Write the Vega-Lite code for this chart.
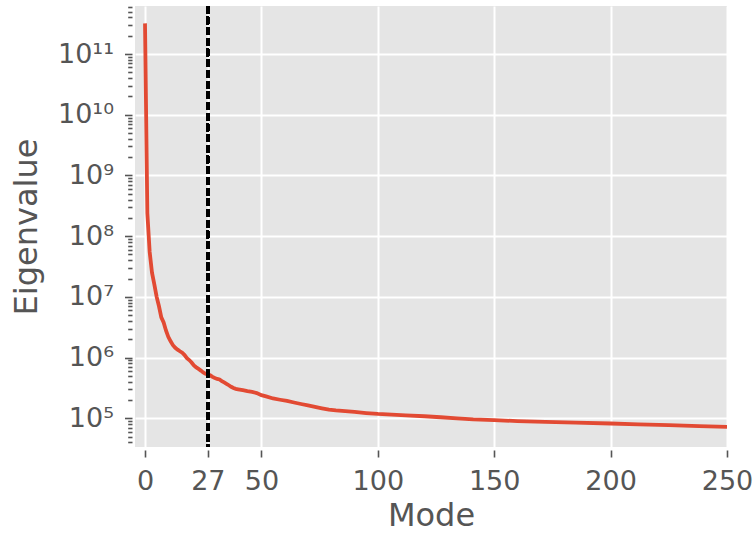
{
  "$schema": "https://vega.github.io/schema/vega-lite/v6.json",
  "width": 592,
  "height": 441,
  "autosize": "none",
  "padding": {"left": 135, "top": 6, "right": 26, "bottom": 86},
  "background": "white",
  "config": {
    "font": "DejaVu Sans",
    "view": {"fill": "#E5E5E5", "stroke": null},
    "axis": {
      "domain": false,
      "gridColor": "white",
      "gridWidth": 2,
      "tickColor": "#555555",
      "tickWidth": 1.6,
      "labelColor": "#555555",
      "labelFont": "DejaVu Sans",
      "labelFontSize": 27,
      "titleColor": "#555555",
      "titleFont": "DejaVu Sans",
      "titleFontSize": 32,
      "titleFontWeight": "normal"
    }
  },
  "data": {
    "values": [
      {"mode": 0, "eig": 3.2e11},
      {"mode": 1, "eig": 2.4e8},
      {"mode": 2, "eig": 5.5e7},
      {"mode": 3, "eig": 2.5e7},
      {"mode": 4, "eig": 1.6e7},
      {"mode": 5, "eig": 1.0e7},
      {"mode": 6, "eig": 7.0e6},
      {"mode": 7, "eig": 4.6e6},
      {"mode": 8, "eig": 3.8e6},
      {"mode": 9, "eig": 2.8e6},
      {"mode": 10, "eig": 2.2e6},
      {"mode": 11, "eig": 1.85e6},
      {"mode": 12, "eig": 1.6e6},
      {"mode": 13, "eig": 1.45e6},
      {"mode": 14, "eig": 1.35e6},
      {"mode": 15, "eig": 1.27e6},
      {"mode": 16, "eig": 1.2e6},
      {"mode": 17, "eig": 1.1e6},
      {"mode": 18, "eig": 9.8e5},
      {"mode": 19, "eig": 9.1e5},
      {"mode": 20, "eig": 8.3e5},
      {"mode": 21, "eig": 7.4e5},
      {"mode": 22, "eig": 6.9e5},
      {"mode": 23, "eig": 6.5e5},
      {"mode": 24, "eig": 6.1e5},
      {"mode": 25, "eig": 5.7e5},
      {"mode": 26, "eig": 5.4e5},
      {"mode": 27, "eig": 5.25e5},
      {"mode": 28, "eig": 5.1e5},
      {"mode": 29, "eig": 4.8e5},
      {"mode": 30, "eig": 4.6e5},
      {"mode": 31, "eig": 4.45e5},
      {"mode": 32, "eig": 4.35e5},
      {"mode": 33, "eig": 4.1e5},
      {"mode": 34, "eig": 3.9e5},
      {"mode": 35, "eig": 3.7e5},
      {"mode": 36, "eig": 3.5e5},
      {"mode": 37, "eig": 3.3e5},
      {"mode": 38, "eig": 3.15e5},
      {"mode": 39, "eig": 3.05e5},
      {"mode": 40, "eig": 3.0e5},
      {"mode": 42, "eig": 2.9e5},
      {"mode": 44, "eig": 2.8e5},
      {"mode": 46, "eig": 2.72e5},
      {"mode": 48, "eig": 2.6e5},
      {"mode": 50, "eig": 2.4e5},
      {"mode": 52, "eig": 2.3e5},
      {"mode": 55, "eig": 2.12e5},
      {"mode": 58, "eig": 2.02e5},
      {"mode": 61, "eig": 1.93e5},
      {"mode": 64, "eig": 1.82e5},
      {"mode": 67, "eig": 1.72e5},
      {"mode": 70, "eig": 1.63e5},
      {"mode": 73, "eig": 1.54e5},
      {"mode": 76, "eig": 1.46e5},
      {"mode": 79, "eig": 1.39e5},
      {"mode": 82, "eig": 1.35e5},
      {"mode": 86, "eig": 1.31e5},
      {"mode": 90, "eig": 1.27e5},
      {"mode": 95, "eig": 1.22e5},
      {"mode": 100, "eig": 1.18e5},
      {"mode": 106, "eig": 1.15e5},
      {"mode": 112, "eig": 1.12e5},
      {"mode": 120, "eig": 1.08e5},
      {"mode": 127, "eig": 1.04e5},
      {"mode": 134, "eig": 1.0e5},
      {"mode": 141, "eig": 9.6e4},
      {"mode": 150, "eig": 9.3e4},
      {"mode": 160, "eig": 9.0e4},
      {"mode": 172, "eig": 8.7e4},
      {"mode": 185, "eig": 8.45e4},
      {"mode": 200, "eig": 8.2e4},
      {"mode": 212, "eig": 7.95e4},
      {"mode": 225, "eig": 7.7e4},
      {"mode": 238, "eig": 7.45e4},
      {"mode": 250, "eig": 7.2e4}
    ]
  },
  "encoding": {
    "x": {
      "field": "mode",
      "type": "quantitative",
      "title": "Mode",
      "scale": {"domain": [-4.3, 250], "nice": false, "zero": false},
      "axis": {
        "values": [0, 27, 50, 100, 150, 200, 250],
        "offset": 3,
        "tickSize": 7,
        "labelPadding": 11,
        "titlePadding": 6,
        "labelFlush": false
      }
    }
  },
  "layer": [
    {
      "mark": {"type": "line", "color": "#E24A33", "strokeWidth": 3.8, "clip": true},
      "encoding": {
        "y": {
          "field": "eig",
          "type": "quantitative",
          "title": "Eigenvalue",
          "scale": {"type": "log", "domain": [33650, 6.18e11], "nice": false},
          "axis": {
            "values": [40000, 50000, 60000, 70000, 80000, 90000,
              100000, 200000, 300000, 400000, 500000, 600000, 700000, 800000, 900000,
              1000000, 2000000, 3000000, 4000000, 5000000, 6000000, 7000000, 8000000, 9000000,
              10000000, 20000000, 30000000, 40000000, 50000000, 60000000, 70000000, 80000000, 90000000,
              100000000, 200000000, 300000000, 400000000, 500000000, 600000000, 700000000, 800000000, 900000000,
              1000000000, 2000000000, 3000000000, 4000000000, 5000000000, 6000000000, 7000000000, 8000000000, 9000000000,
              10000000000, 20000000000, 30000000000, 40000000000, 50000000000, 60000000000, 70000000000, 80000000000, 90000000000,
              100000000000, 200000000000, 300000000000, 400000000000, 500000000000, 600000000000],
            "offset": 3,
            "tickSize": {"condition": {"test": "abs(log(datum.value)/LN10 - round(log(datum.value)/LN10)) < 0.001", "value": 7.5}, "value": 4.3},
            "gridOpacity": {"condition": {"test": "abs(log(datum.value)/LN10 - round(log(datum.value)/LN10)) < 0.001", "value": 1}, "value": 0},
            "labelExpr": "abs(log(datum.value)/LN10 - round(log(datum.value)/LN10)) > 0.001 ? '' : round(log(datum.value)/LN10) == 5 ? '10⁵' : round(log(datum.value)/LN10) == 6 ? '10⁶' : round(log(datum.value)/LN10) == 7 ? '10⁷' : round(log(datum.value)/LN10) == 8 ? '10⁸' : round(log(datum.value)/LN10) == 9 ? '10⁹' : round(log(datum.value)/LN10) == 10 ? '10¹⁰' : '10¹¹'",
            "labelPadding": 11,
            "labelOverlap": false,
            "labelFlush": false,
            "titlePadding": 14
          }
        }
      }
    },
    {
      "mark": {"type": "rule", "color": "black", "strokeWidth": 2.5, "strokeDash": [7.5, 3.2]},
      "encoding": {"x": {"datum": 27}}
    }
  ]
}
